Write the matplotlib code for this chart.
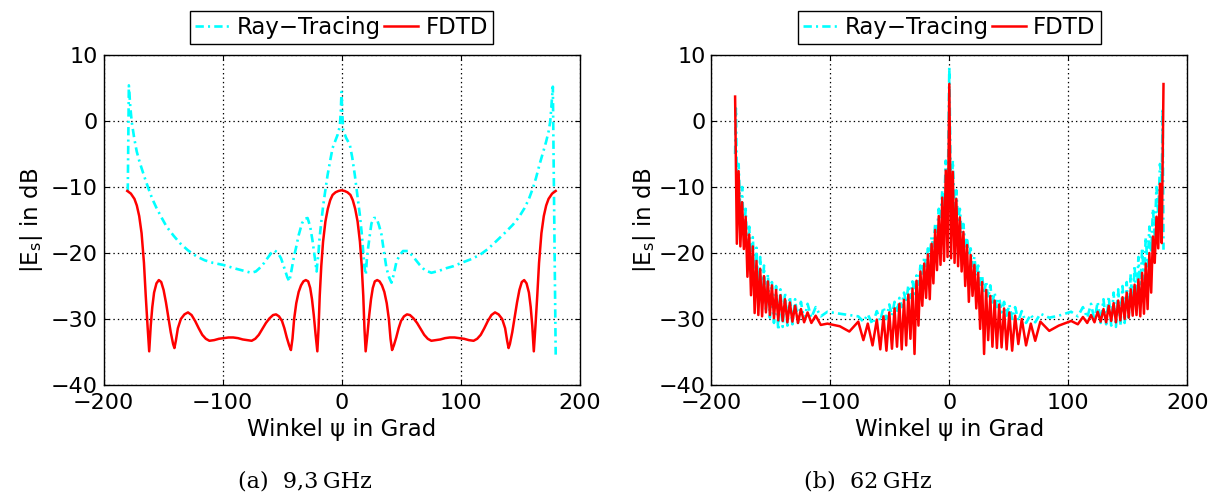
import matplotlib
matplotlib.use("Agg")
import matplotlib.pyplot as plt

plt.rcParams['font.family'] = ['DejaVu Sans']
plt.rcParams['mathtext.fontset'] = 'dejavusans'
plt.rcParams['lines.scale_dashes'] = False

# ---------------- (a) 9,3 GHz ----------------
rt93_x = [-179.6, -178.7, -177.5, -176.3, -174.2, -172.1, -170, -167.9, -165, -162.3, -159, -155.4,
          -151, -147, -141, -135.8, -129, -121.9, -115, -107.9, -99.6, -94, -88.4, -82, -75.9, -72,
          -68.9, -65, -61.9, -59, -56.3, -53.5, -50.8, -48, -45.5, -43.8, -42, -40, -38.2, -36, -33.2,
          -30.8, -28.5, -26.3, -24.3, -22.5, -20.9, -20.3, -19.5, -18.7, -17, -15.3, -13.5, -11.7,
          -9.5, -7.5, -5, -3.3, -1.4, -0.6, 0, 0.6, 1.4, 4, 7, 9, 11.2, 13.5, 15.4, 17, 18.2, 19.2,
          20.4, 21.3, 22.4, 24, 25.2, 27.3, 29.4, 31.5, 33.6, 35.5, 37.8, 40, 42, 44, 46.2, 49, 51.7,
          55.9, 60, 65.7, 70, 75.5, 82, 88.1, 94, 100.7, 108, 116.1, 123, 130.1, 137, 144.1, 149,
          153.8, 157.5, 160.8, 163.5, 166.4, 169.3, 172, 174, 175.4, 176.5, 177.6, 180]
rt93_y = [-10.7, 5.4, 2.2, -0.1, -2.6, -4.6, -6.0, -7.2, -8.8, -10.2, -11.8, -13.2,
          -14.7, -16.0, -17.4, -18.5, -19.6, -20.5, -21.1, -21.5, -21.8, -22.1, -22.4, -22.7, -23.0, -22.8,
          -22.3, -21.5, -20.7, -20.0, -19.6, -20.0, -20.8, -22.3, -23.7, -24.3, -22.6, -20.6, -19.2, -17.3, -15.5,
          -14.8, -14.7, -16.0, -18.2, -20.6, -22.8, -21.5, -20.4, -18.2, -15.3, -12.7, -10.4, -8.2,
          -6.0, -4.1, -2.9, -2.1, -0.8, 1.5, 4.4, 1.3, -1.4, -2.6, -3.6, -5.5, -8.2, -11.5, -14.2, -17.0, -19.7, -22.0,
          -23.3, -21.0, -19.2, -17.0, -15.5, -14.7, -14.7, -15.8, -17.2, -19.6, -22.3, -23.7, -24.5, -23.2, -21.3, -20.3, -19.7,
          -19.7, -20.5, -21.8, -22.6, -23.0, -22.7, -22.3, -22.0, -21.5, -21.0, -20.3, -19.4, -18.2, -17.0, -15.7, -14.6,
          -13.2, -11.8, -10.2, -8.6, -6.6, -4.8, -3.1, -1.6, -0.1, 2.5, 5.2, -35.4]

fdtd93_x = [-180, -177, -174, -172, -170, -168, -166, -164.5, -163, -161.6, -160.3, -159, -157.5, -155.5,
            -153.5, -151.5, -149.5, -147.5, -145.5, -143.5, -141.5, -140.4, -139.2, -137.5, -135, -132,
            -129, -126, -123, -120, -117, -114, -111, -107, -103, -99, -95, -91, -87, -83, -79, -75.5,
            -72.5, -69.5, -66.5, -63.5, -60.5, -57.5, -55, -52.5, -50, -48, -46, -44, -42.5, -41.2,
            -39.8, -38, -36, -34, -32, -30, -28, -26.3, -24.8, -23.3, -21.8, -20.3, -19.3, -18.3, -17,
            -15.5, -13.5, -11.5, -9.5, -7.5, -5, -2.5, 0,
            2.5, 5, 7.5, 9.5, 11.5, 13.5, 15.5, 17, 18.3, 19.3, 20.3, 21.8, 23.3, 24.8, 26.3, 28, 30,
            32, 34, 36, 38, 39.8, 41.2, 42.5, 44, 46, 48, 50, 52.5, 55, 57.5, 60.5, 63.5, 66.5, 69.5,
            72.5, 75.5, 79, 83, 87, 91, 95, 99, 103, 107, 111, 114, 117, 120, 123, 126, 129, 132, 135,
            137.5, 139.2, 140.4, 141.5, 143.5, 145.5, 147.5, 149.5, 151.5, 153.5, 155.5, 157.5, 159,
            160.3, 161.6, 163, 164.5, 166, 168, 170, 172, 174, 177, 180]
fdtd93_y = [-10.6, -11.0, -11.8, -12.8, -14.4, -17.0, -21.5, -26.5, -31.0, -34.9, -31.0, -28.2, -26.0, -24.6,
            -24.1, -24.4, -25.6, -27.5, -29.8, -32.0, -33.8, -34.4, -33.3, -31.4, -30.0, -29.3,
            -29.0, -29.4, -30.3, -31.4, -32.4, -33.0, -33.3, -33.2, -33.0, -32.9, -32.8, -32.8, -32.9, -33.1, -33.2, -33.3,
            -33.0, -32.4, -31.5, -30.6, -29.9, -29.4, -29.3, -29.6, -30.3, -31.4, -32.8, -34.0, -34.7, -33.0,
            -30.0, -27.6, -25.9, -24.9, -24.3, -24.1, -24.3, -25.3, -27.0, -29.4, -32.3, -34.9, -31.5, -26.5, -22.0,
            -18.3, -15.2, -13.3, -12.0, -11.2, -10.8, -10.6, -10.5,
            -10.6, -10.8, -11.2, -12.0, -13.3, -15.2, -18.3, -22.0, -26.5, -31.5, -34.9, -32.3, -29.4, -27.0, -25.3, -24.3, -24.1,
            -24.3, -24.9, -25.9, -27.6, -30.0, -33.0, -34.7, -34.0, -32.8, -31.4, -30.3, -29.6, -29.3, -29.4, -29.9, -30.6, -31.5, -32.4,
            -33.0, -33.3, -33.2, -33.1, -32.9, -32.8, -32.8, -32.9, -33.0, -33.2, -33.3, -33.0, -32.4, -31.4, -30.3, -29.4, -29.0, -29.3, -30.0,
            -31.4, -33.3, -34.4, -33.8, -32.0, -29.8, -27.5, -25.6, -24.4, -24.1, -24.6, -26.0, -28.2,
            -31.0, -34.9, -31.0, -26.5, -21.5, -17.0, -14.4, -12.8, -11.8, -11.0, -10.6]

# ---------------- (b) 62 GHz ----------------
ang62_neg = [-180, -178.53, -177.05, -175.58, -174.1, -172.62, -171.13, -169.64, -168.13, -166.63,
             -165.11, -163.58, -162.04, -160.48, -158.91, -157.32, -155.72, -154.09, -152.44, -150.77,
             -149.07, -147.34, -145.57, -143.76, -141.92, -140.02, -138.07, -136.06, -133.98, -131.82,
             -129.56, -127.18, -124.67, -122.0, -119.1, -115.9, -112.3, -108.0, -102.4, -92.0,
             -84.0, -76.5, -72.2, -68.5, -64.5, -60.9, -58.0, -55.33, -52.82, -50.44,
             -48.18, -46.02, -43.94, -41.93, -39.98, -38.08, -36.24, -34.43, -32.66, -30.93,
             -29.23, -27.56, -25.91, -24.28, -22.68, -21.09, -19.52, -17.96, -16.42, -14.89,
             -13.37, -11.87, -10.36, -8.87, -7.38, -5.9, -4.42, -2.95, -1.47]
ang62_pos = [1.47, 2.95, 4.42, 5.9, 7.38, 8.87, 10.36, 11.87, 13.37, 14.89,
             16.42, 17.96, 19.52, 21.09, 22.68, 24.28, 25.91, 27.56, 29.23, 30.93,
             32.66, 34.43, 36.24, 38.08, 39.98, 41.93, 43.94, 46.02, 48.18, 50.44,
             52.82, 55.33, 58.0, 60.9, 64.5, 68.5, 72.2, 76.5, 84.0, 92.0,
             102.4, 108.0, 112.3, 115.9, 119.1, 122.0, 124.67, 127.18, 129.56, 131.82,
             133.98, 136.06, 138.07, 140.02, 141.92, 143.76, 145.57, 147.34, 149.07, 150.77,
             152.44, 154.09, 155.72, 157.32, 158.91, 160.48, 162.04, 163.58, 165.11, 166.63,
             168.13, 169.64, 171.13, 172.62, 174.1, 175.58, 177.05, 178.53, 180]

fdtd62_neg = [3.7, -18.6, -7.6, -19.0, -12.3, -19.4, -14.5, -23.6, -17.2, -26.4,
              -19.0, -29.1, -21.2, -29.4, -22.4, -29.6, -23.5, -29.0, -24.3, -29.4,
              -24.9, -29.9, -25.6, -30.2, -26.4, -30.3, -27.0, -30.5, -27.5, -30.4,
              -28.0, -30.6, -28.5, -30.5, -29.0, -30.6, -29.5, -30.9, -30.7, -31.1,
              -31.9, -30.4, -33.2, -30.7, -34.0, -30.1, -34.6, -29.6, -34.8, -29.0,
              -34.5, -28.4, -34.2, -27.7, -34.6, -27.1, -34.0, -26.3, -33.0, -25.4,
              -35.3, -24.2, -31.0, -22.8, -28.0, -21.6, -26.8, -20.2, -27.0, -18.6,
              -24.6, -16.5, -22.6, -14.4, -21.8, -11.6, -21.2, -7.5, -20.6]
fdtd62_center = 5.6
fdtd62_pos = [-20.8, -7.7, -21.5, -11.8, -22.0, -14.6, -22.8, -16.8, -25.0, -18.8,
              -27.4, -20.3, -26.5, -21.8, -28.4, -23.0, -31.5, -24.4, -35.3, -25.6,
              -33.2, -26.5, -34.2, -27.2, -34.4, -27.8, -34.3, -28.4, -34.6, -29.0,
              -34.8, -29.5, -33.8, -30.0, -34.0, -30.7, -33.3, -30.4, -31.8, -31.0,
              -30.3, -30.8, -29.7, -30.6, -29.4, -30.5, -28.9, -30.4, -28.5, -30.5,
              -28.0, -30.3, -27.6, -30.5, -27.2, -30.2, -26.7, -30.0, -26.0, -29.8,
              -25.5, -29.5, -24.8, -29.4, -24.0, -29.6, -23.0, -29.2, -21.6, -28.5,
              -20.0, -26.0, -17.5, -21.5, -14.5, -19.3, -9.5, -18.5, 5.6]

rt62_ends_x = [-180, -179.3, 179.3, 180]
rt62_ends_y = [-5.0, 1.9, 1.9, -19.5]
rt62_center = 8.2
rt62_neg = [-9.0, -6.5, -14.0, -10.0, -17.5, -13.3, -20.0, -16.0,
            -22.0, -17.6, -24.0, -19.2, -26.0, -20.6, -27.5, -21.9, -28.8, -23.2,
            -29.8, -24.4, -30.6, -25.0, -31.7, -25.5, -31.2, -26.0, -31.0, -26.6,
            -30.8, -27.0, -30.6, -27.4, -30.2, -27.7, -29.8, -28.2, -29.6, -28.9,
            -29.2, -29.4, -29.6, -30.4, -29.3, -30.8, -28.8, -30.3, -28.2, -30.0,
            -27.8, -29.5, -27.4, -29.0, -26.8, -28.2, -26.0, -27.5, -24.9, -26.8,
            -24.3, -26.2, -23.4, -24.8, -21.9, -23.5, -20.6, -22.0, -19.3, -20.5,
            -17.6, -19.0, -15.6, -17.0, -13.3, -15.0, -10.5, -13.5, -6.0, -14.0]
rt62_pos = [-14.0, -6.0, -13.5, -10.5, -15.0, -13.3, -17.0, -15.6, -19.0, -17.6,
            -20.5, -19.3, -22.0, -20.6, -23.5, -21.9, -24.8, -23.4, -26.2, -24.3,
            -26.8, -24.9, -27.5, -26.0, -28.2, -26.8, -29.0, -27.4, -29.5, -27.8,
            -30.0, -28.2, -30.3, -28.8, -30.6, -29.3, -30.5, -29.2, -29.8, -29.5,
            -28.9, -29.6, -28.2, -29.8, -27.7, -30.2, -27.4, -30.6, -27.0, -30.8,
            -26.6, -31.0, -26.0, -31.2, -25.5, -31.0, -25.0, -30.6, -24.4, -29.8,
            -23.2, -28.8, -21.9, -27.5, -20.6, -26.0, -19.2, -24.0, -17.6, -22.0,
            -16.0, -20.0, -13.3, -17.5, -10.0, -14.0, -6.5, -9.0]

fdtd62_x = ang62_neg + [0.0] + ang62_pos
fdtd62_y = fdtd62_neg + [fdtd62_center] + fdtd62_pos
rt62_x = rt62_ends_x[:2] + ang62_neg[1:] + [0.0] + ang62_pos[:-1] + rt62_ends_x[2:]
rt62_y = rt62_ends_y[:2] + rt62_neg + [rt62_center] + rt62_pos + rt62_ends_y[2:]

xticks = [-200, -100, 0, 100, 200]
yticks = [-40, -30, -20, -10, 0, 10]
series_labels = ['Ray\u2212Tracing', 'FDTD']
xlabel = 'Winkel \u03c8 in Grad'
ylabel = r'|E$_\mathregular{s}$| in dB'
captions = ['(a)  9,3\u2009GHz', '(b)  62\u2009GHz']

# ---------------- figure ----------------
W, H = 1217, 498
fig = plt.figure(figsize=(W / 100, H / 100), dpi=100)


def rect(l, r, t, b):
    return [l / W, 1 - b / H, (r - l) / W, (b - t) / H]


ax1 = fig.add_axes(rect(103.5, 579.5, 55, 385))
ax2 = fig.add_axes(rect(711.3, 1187.3, 55, 385))

cyan = (0, 1, 1)
red = (1, 0, 0)
dashdot = (0, (6.0, 3.0, 1.5, 3.0))

for ax, (rx, ry, fx, fy), ylx, cap, capx in [
        (ax1, (rt93_x, rt93_y, fdtd93_x, fdtd93_y), -0.152, captions[0], 305),
        (ax2, (rt62_x, rt62_y, fdtd62_x, fdtd62_y), -0.14, captions[1], 868)]:
    ax.plot(rx, ry, color=cyan, lw=1.9, linestyle=dashdot, label=series_labels[0], zorder=3)
    ax.plot(fx, fy, color=red, lw=1.8, label=series_labels[1], zorder=4)
    ax.set_xlim(-200, 200)
    ax.set_ylim(-40, 10)
    ax.set_xticks(xticks)
    ax.set_yticks(yticks)
    ax.grid(True, color='black', linestyle=(0, (1, 2.2)), linewidth=0.9)
    ax.set_axisbelow(True)
    ax.tick_params(direction='in', length=3.6, width=0.8, top=True, right=True,
                   labelsize=16, colors='black')
    ax.tick_params(axis='x', pad=6)
    ax.tick_params(axis='y', pad=4)
    for sp in ax.spines.values():
        sp.set_linewidth(1.0)
        sp.set_color('black')
    ax.set_xlabel(xlabel, fontsize=16.5)
    ax.xaxis.set_label_coords(0.5, -0.1)
    ax.set_ylabel(ylabel, fontsize=16.5, va='center')
    ax.yaxis.set_label_coords(ylx, 0.5)
    leg = ax.legend(loc='lower center', bbox_to_anchor=(0.5, 1.033), ncol=2, fontsize=16.5,
                    frameon=True, fancybox=False, framealpha=1, edgecolor='black',
                    handlelength=1.5, handletextpad=0.3, columnspacing=0.15,
                    borderpad=0.22, borderaxespad=0.0)
    leg.get_frame().set_linewidth(1.0)
    fig.text(capx / W, 1 - 481 / H, cap, family='DejaVu Serif', fontsize=16,
             ha='center', va='center')

fig.savefig('out.png', dpi=100)
